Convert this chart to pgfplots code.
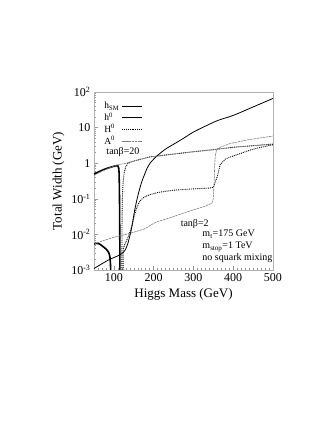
\documentclass[border=0pt]{standalone}
\usepackage{fontspec}
\setmainfont{Liberation Serif}
\usepackage{pgfplots}
\pgfplotsset{compat=1.18}

\begin{document}
\begin{tikzpicture}
\useasboundingbox (-94pt,-160pt) rectangle (239pt,270pt);
\begin{axis}[
  at={(0pt,0pt)}, anchor=south west,
  scale only axis, width=179pt, height=178pt,
  xmin=50, xmax=500,
  ymode=log, ymin=1e-3, ymax=1e2,
  xtick={100,200,300,400,500},
  xticklabels={100,200,300,400,500},
  minor xtick={60,70,80,90,110,120,130,140,150,160,170,180,190,210,220,230,240,250,260,270,280,290,310,320,330,340,350,360,370,380,390,410,420,430,440,450,460,470,480,490},
  ytick={1e-3,1e-2,1e-1,1,10,100},
  yticklabels={10\textsuperscript{-3},10\textsuperscript{-2},10\textsuperscript{-1},1,10,10\textsuperscript{2}},
  minor ytick={2e-3,3e-3,4e-3,5e-3,6e-3,7e-3,8e-3,9e-3,
               2e-2,3e-2,4e-2,5e-2,6e-2,7e-2,8e-2,9e-2,
               2e-1,3e-1,4e-1,5e-1,6e-1,7e-1,8e-1,9e-1,
               2,3,4,5,6,7,8,9,20,30,40,50,60,70,80,90},
  tick pos=left,
  major tick length=4pt, minor tick length=2pt,
  every tick/.style={gray!80, line width=0.5pt},
  axis line style={gray!60, line width=0.6pt},
  ticklabel style={font=\fontsize{12}{14}\selectfont},
  label style={font=\fontsize{13}{15}\selectfont},
  xlabel={Higgs Mass (GeV)},
  ylabel={Total Width (GeV)},
  legend plot pos=right,
  legend cell align=left,
  legend image code/.code={\draw[#1] (0pt,0pt) -- (20pt,0pt);},
  legend style={draw=none, fill=none, at={(0.04,0.96)}, anchor=north west,
    font=\fontsize{9.5}{10}\selectfont, row sep=-1.8pt, inner sep=1pt},
]
% h_SM
\addplot[black, line width=0.8pt, smooth] coordinates {
(50,1.1e-3) (70,1.5e-3) (90,2.0e-3) (110,2.5e-3) (120,2.9e-3) (128,3.6e-3)
(135,5.5e-3) (141,1.0e-2) (146,1.8e-2) (151,4e-2) (157,8.5e-2) (163,0.16)
(170,0.3) (176,0.45) (183,0.7) (191,1.0) (200,1.3) (211,1.7) (230,2.5)
(250,3.4) (275,5.0) (300,7.5) (330,11) (362,16) (400,22) (450,38) (500,66)};
% h0, tan beta = 20
\addplot[black, line width=1.6pt] coordinates {
(50,0.5) (60,0.56) (70,0.63) (80,0.7) (90,0.76) (100,0.82) (106,0.85)
(110,0.84) (112,0.75) (113,0.55) (113.7,0.25) (114.2,0.08) (114.6,0.02)
(114.9,6e-3) (115.1,2e-3) (115.2,8e-4)};
% H0, tan beta = 20
\addplot[black, line width=0.9pt, densely dotted] coordinates {
(120,8e-4) (120.2,3e-3) (120.5,0.02) (121,0.07) (122,0.16) (123.5,0.32)
(126,0.55) (130,0.8) (135,0.97) (140,1.05) (150,1.15) (190,1.5) (240,1.75)
(300,2.1) (350,2.4) (400,2.8) (450,3.1) (500,3.45)};
% A0, tan beta = 20
\addplot[gray, line width=0.6pt, dash pattern=on 2.5pt off 0.7pt] coordinates {
(50,0.45) (70,0.6) (90,0.75) (110,0.9) (130,1.0) (150,1.15) (190,1.5)
(240,1.75) (300,2.1) (350,2.4) (400,2.8) (450,3.1) (500,3.45)};
\legend{h\textsubscript{SM},h\textsuperscript{0},H\textsuperscript{0},A\textsuperscript{0}}
% h0, tan beta = 2
\addplot[black, line width=1.6pt, smooth, forget plot] coordinates {
(50,5.3e-3) (55,5.6e-3) (62,5.5e-3) (70,4.8e-3) (80,3.9e-3) (87,3.1e-3)
(90,2.3e-3) (91.5,1.4e-3) (92,8e-4)};
% H0, tan beta = 2
\addplot[black, line width=0.9pt, densely dotted, forget plot] coordinates {
(123,8e-4) (123.5,4e-3) (128,5.5e-3) (135,8e-3) (142,1.3e-2) (150,3e-2)
(157,5.5e-2) (165,0.085) (175,0.11) (190,0.13) (210,0.15) (250,0.175)
(300,0.19) (340,0.2) (350,0.21) (355,0.3) (360,0.42) (367,0.9) (380,1.3)
(393,1.5) (420,1.9) (443,2.35) (470,2.8) (500,3.3)};
% A0, tan beta = 2
\addplot[gray, line width=0.6pt, dash pattern=on 2.5pt off 0.7pt, forget plot] coordinates {
(50,5.3e-3) (70,6.5e-3) (100,8.3e-3) (130,1.0e-2) (150,1.15e-2) (165,1.3e-2)
(175,1.4e-2) (185,1.6e-2) (195,1.9e-2) (210,2.3e-2) (240,2.9e-2) (290,4.5e-2)
(330,6.2e-2) (346,7.5e-2) (350,0.1) (352,0.3) (353.5,0.9) (355,1.7) (358,2.3)
(367,2.8) (393,3.6) (440,4.6) (500,5.8)};
\node[anchor=west, font=\fontsize{10}{12}\selectfont] at (rel axis cs:0.05,0.663) {tanβ=20};
\node[anchor=west, font=\fontsize{10}{12}\selectfont] at (rel axis cs:0.465,0.258) {tanβ=2};
\node[anchor=west, font=\fontsize{10}{12}\selectfont, align=left, inner sep=0pt] at (rel axis cs:0.605,0.132) {m\textsubscript{t}=175 GeV\\m\textsubscript{stop}=1 TeV\\no squark mixing};
\end{axis}
\end{tikzpicture}
\end{document}
